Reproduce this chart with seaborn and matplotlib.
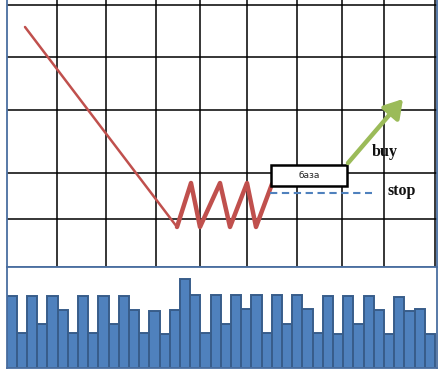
import matplotlib
matplotlib.use("Agg")
import matplotlib.pyplot as plt
from matplotlib.patches import Rectangle
import numpy as np
import pandas as pd
import seaborn as sns

# ---------------- data ----------------
# price path (pixel-like chart units, y grows downward)
trend_x = [25, 177]
trend_y = [27, 227]
range_x = [177, 191, 200, 220, 230, 247, 256, 272]
range_y = [227, 183, 227, 183, 227, 183, 227, 184]
# base box, stop level, buy signal
base_box = [270.7, 165, 347.3, 186]      # x0, y0, x1, y1
base_label = "база"
stop_x = [270, 372]
stop_level = 193.3
buy_from = [348, 163]
buy_to = [403, 99]
buy_label = "buy"
stop_label = "stop"
grid_x = [57, 106, 156, 200, 247, 297, 342, 384, 435]
grid_y = [5, 57, 110, 173, 219]
# volume bars
volume = [72, 35, 72, 44, 72, 58, 35, 72, 35, 72, 44, 72, 58, 35,
          57, 34, 58, 89, 73, 35, 73, 44, 73, 59, 73, 35, 73, 44,
          73, 59, 35, 72, 34, 72, 44, 72, 58, 34, 71, 57, 59, 34]

# ---------------- figure ----------------
sns.set_theme(style="white")
W, H = 442, 374
fig = plt.figure(figsize=(W / 100, H / 100), dpi=100)
fig.patch.set_facecolor("white")


def rect(x0, y0, x1, y1):
    return [x0 / W, 1 - y1 / H, (x1 - x0) / W, (y1 - y0) / H]


frame_col = "#4a6ea0"
L, R = 6.7, 437.5

# top panel
ax = fig.add_axes(rect(L, 0, R, 267))
ax.set_xlim(L, R)
ax.set_ylim(267, 0)
ax.set_xticks(grid_x)
ax.set_yticks(grid_y)
ax.tick_params(length=0, labelbottom=False, labelleft=False)
ax.grid(True, color="black", linewidth=1.1)
ax.set_axisbelow(True)
for s in ["left", "right", "bottom"]:
    ax.spines[s].set_color(frame_col)
    ax.spines[s].set_linewidth(1.3)
ax.spines["top"].set_visible(False)

red = "#c0504d"
sns.lineplot(x=trend_x, y=trend_y, sort=False, estimator=None, ax=ax,
             color=red, linewidth=1.8)
sns.lineplot(x=range_x, y=range_y, sort=False, estimator=None, ax=ax,
             color=red, linewidth=3.2)

ax.plot(stop_x, [stop_level, stop_level], color="#4f81bd", linewidth=1.5,
        linestyle=(0, (3.5, 2.2)))

ax.add_patch(Rectangle((base_box[0], base_box[1]), base_box[2] - base_box[0],
                       base_box[3] - base_box[1], facecolor="white",
                       edgecolor="black", linewidth=1.8, zorder=5))
ax.text((base_box[0] + base_box[2]) / 2, (base_box[1] + base_box[3]) / 2 + 0.5,
        base_label, ha="center", va="center", fontsize=6.5,
        family="DejaVu Sans", zorder=6)

ax.annotate("", xy=buy_to, xytext=buy_from,
            arrowprops=dict(arrowstyle="-|>,head_length=0.9,head_width=0.55",
                            color="#9bbb59", linewidth=3.2, shrinkA=0, shrinkB=0),
            zorder=6)

ax.text(372, 152.5, buy_label, ha="left", va="center", fontsize=11.5,
        family="Liberation Serif", fontweight="bold", color="#111111")
ax.text(388, 191, stop_label, ha="left", va="center", fontsize=11.5,
        family="Liberation Serif", fontweight="bold", color="#111111")

# bottom panel
axb = fig.add_axes(rect(L, 267, R, 367.7))
df = pd.DataFrame({"bar": np.arange(len(volume)), "volume": volume})
sns.barplot(data=df, x="bar", y="volume", ax=axb, color="#4f81bd",
            saturation=1, width=1.0, edgecolor="#385d8a", linewidth=1.4)
axb.set_xlim(-0.5, len(volume) - 0.25)
axb.set_ylim(0, 100.7)
axb.set_xlabel("")
axb.set_ylabel("")
axb.set_xticks([])
axb.set_yticks([])
for s in ["left", "right", "bottom", "top"]:
    axb.spines[s].set_color(frame_col)
    axb.spines[s].set_linewidth(1.3)

fig.savefig("out.png", dpi=100)
